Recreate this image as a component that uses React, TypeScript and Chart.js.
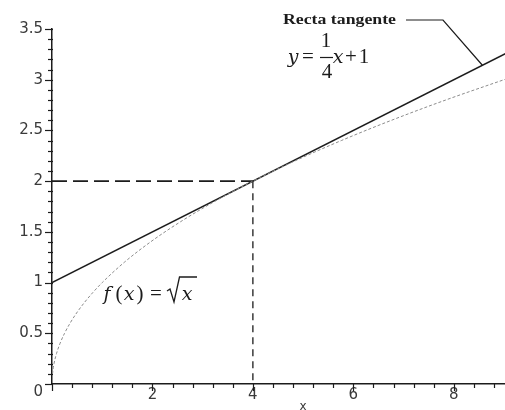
import { useEffect, useRef } from 'react';
import { Chart, registerables } from 'chart.js';

Chart.register(...registerables);

// Tangent line y = x/4 + 1 (endpoints)
const tangentX = [0, 9.1];
const tangentY = [1, 3.275];

// f(x) = sqrt(x), sampled points
const rootX = [0, 0.0025, 0.01, 0.04, 0.09, 0.16, 0.25, 0.36, 0.49, 0.64, 0.81, 1, 1.44, 1.96, 2.56, 3.24, 4, 4.84, 5.76, 6.76, 7.84, 9, 9.1];
const rootY = [0, 0.05, 0.1, 0.2, 0.3, 0.4, 0.5, 0.6, 0.7, 0.8, 0.9, 1, 1.2, 1.4, 1.6, 1.8, 2, 2.2, 2.4, 2.6, 2.8, 3, 3.017];

// Guides to the point of tangency (4, 2)
const guideX = [0, 4];
const guideY = [2, 2];
const dropX = [4, 4];
const dropY = [2, 0];

const xMin = 0;
const xMax = 9.02;
const yMin = 0;
const yMax = 3.5;
const xMajorStep = 2;
const xMinorStep = 0.4;
const yMajorStep = 0.5;
const yMinorStep = 0.1;

const pts = (xs: number[], ys: number[]) => xs.map((x, i) => ({ x, y: ys[i] }));

const INK = '#1c1c1c';
const LABEL = '#3a3a3a';
const MATH_IT = '"DejaVu Serif", "Liberation Serif", serif';
const MATH_UP = '"Liberation Serif", "DejaVu Serif", serif';
const SANS = '"DejaVu Sans", "Liberation Sans", sans-serif';

const decorations = {
  id: 'decorations',
  afterDraw(chart: any) {
    const { ctx, scales } = chart;
    const xs = scales.x;
    const ys = scales.y;
    const area = chart.chartArea;
    ctx.save();
    ctx.strokeStyle = INK;
    ctx.lineWidth = 1.2;

    // minor / major tick marks on the x axis
    const nx = Math.round((xMax - xMin) / xMinorStep);
    for (let i = 0; i <= nx; i++) {
      const v = xMin + i * xMinorStep;
      if (v > xMax) break;
      const major = i % Math.round(xMajorStep / xMinorStep) === 0;
      const px = Math.round(xs.getPixelForValue(v)) + 0.5;
      ctx.beginPath();
      ctx.moveTo(px, area.bottom - 1);
      ctx.lineTo(px, area.bottom + (major ? 7 : 4));
      ctx.stroke();
    }
    // minor / major tick marks on the y axis
    const ny = Math.round((yMax - yMin) / yMinorStep);
    for (let i = 0; i <= ny; i++) {
      const v = yMin + i * yMinorStep;
      const major = i % Math.round(yMajorStep / yMinorStep) === 0;
      const py = Math.round(ys.getPixelForValue(v)) + 0.5;
      ctx.beginPath();
      ctx.moveTo(area.left + 1, py);
      ctx.lineTo(area.left - (major ? 7 : 4), py);
      ctx.stroke();
    }

    // origin label
    ctx.fillStyle = LABEL;
    ctx.font = `15px ${SANS}`;
    ctx.textAlign = 'right';
    ctx.textBaseline = 'middle';
    ctx.fillText('0', area.left - 9, ys.getPixelForValue(0) + 8);

    // axis title
    ctx.textAlign = 'center';
    ctx.textBaseline = 'alphabetic';
    ctx.font = `12px ${SANS}`;
    ctx.fillText('x', 303, 410);

    // "Recta tangente" with leader line to the tangent
    ctx.fillStyle = INK;
    ctx.textAlign = 'left';
    ctx.font = `bold 14px ${MATH_UP}`;
    const label = 'Recta tangente';
    const w = ctx.measureText(label).width;
    ctx.save();
    ctx.translate(283, 24);
    ctx.scale(113 / w, 1);
    ctx.fillText(label, 0, 0);
    ctx.restore();
    const lx = 8.57;
    ctx.lineWidth = 1.2;
    ctx.beginPath();
    ctx.moveTo(406, 20);
    ctx.lineTo(443, 20);
    ctx.lineTo(xs.getPixelForValue(lx), ys.getPixelForValue(lx / 4 + 1));
    ctx.stroke();

    const it = `italic 19px ${MATH_IT}`;
    const up = `21px ${MATH_UP}`;
    const put = (s: string, font: string, cx: number, by: number) => {
      ctx.font = font;
      ctx.textAlign = 'center';
      ctx.fillText(s, cx, by);
    };

    // y = 1/4 x + 1
    put('y', it, 293, 63);
    put('=', up, 308, 63);
    put('1', up, 326, 47);
    put('4', up, 327, 78);
    ctx.lineWidth = 1.2;
    ctx.beginPath();
    ctx.moveTo(320, 57.5);
    ctx.lineTo(333, 57.5);
    ctx.stroke();
    put('x', it, 338, 63);
    put('+', up, 351, 63);
    put('1', up, 364, 63);

    // f(x) = sqrt(x)
    put('f', it, 107, 300);
    put('(', up, 119, 300);
    put('x', it, 129, 300);
    put(')', up, 140, 300);
    put('=', up, 156, 300);
    put('x', it, 187, 300);
    ctx.lineWidth = 1.3;
    ctx.beginPath();
    ctx.moveTo(167, 291);
    ctx.lineTo(170, 289);
    ctx.lineTo(174, 302);
    ctx.lineTo(179.5, 277);
    ctx.lineTo(197, 277);
    ctx.stroke();

    ctx.restore();
  },
};

export default function App() {
  const ref = useRef<HTMLCanvasElement | null>(null);

  useEffect(() => {
    if (!ref.current) return;
    const chart = new Chart(ref.current, {
      type: 'line',
      data: {
        datasets: [
          {
            label: 'f(x) = √x',
            data: pts(rootX, rootY),
            borderColor: '#8c8c8c',
            borderWidth: 1,
            borderDash: [3, 2],
            pointRadius: 0,
            cubicInterpolationMode: 'monotone',
          },
          {
            label: 'Recta tangente',
            data: pts(tangentX, tangentY),
            borderColor: INK,
            borderWidth: 1.6,
            pointRadius: 0,
          },
          {
            label: 'y = 2',
            data: pts(guideX, guideY),
            borderColor: INK,
            borderWidth: 1.6,
            borderDash: [15, 6],
            pointRadius: 0,
          },
          {
            label: 'x = 4',
            data: pts(dropX, dropY),
            borderColor: INK,
            borderWidth: 1.3,
            borderDash: [7, 5],
            pointRadius: 0,
          },
        ],
      },
      options: {
        responsive: false,
        animation: false,
        layout: { padding: { top: 29, right: 0, bottom: 0, left: 0 } },
        plugins: { legend: { display: false }, tooltip: { enabled: false } },
        scales: {
          x: {
            type: 'linear',
            min: xMin,
            max: xMax,
            afterFit: (s: any) => { s.height = 26; },
            grid: { display: false, drawTicks: false },
            border: { display: true, color: INK, width: 1.5 },
            ticks: {
              stepSize: xMajorStep,
              includeBounds: false,
              padding: 2,
              color: LABEL,
              font: { family: SANS, size: 15 },
              maxRotation: 0,
              callback: (v: any) => (Number(v) === 0 ? '' : String(v)),
            },
          },
          y: {
            type: 'linear',
            min: yMin,
            max: yMax,
            afterFit: (s: any) => { s.width = 52; },
            grid: { display: false, drawTicks: false },
            border: { display: true, color: INK, width: 1.5 },
            ticks: {
              stepSize: yMajorStep,
              includeBounds: false,
              padding: 9,
              color: LABEL,
              font: { family: SANS, size: 15 },
              callback: (v: any) => (Number(v) === 0 ? '' : String(v)),
            },
          },
        },
      },
      plugins: [decorations],
    });
    return () => chart.destroy();
  }, []);

  return (
    <div style={{ position: 'fixed', left: 0, top: 0, width: 505, height: 410, background: '#fff' }}>
      <canvas ref={ref} width={505} height={410} style={{ display: 'block' }} />
    </div>
  );
}
